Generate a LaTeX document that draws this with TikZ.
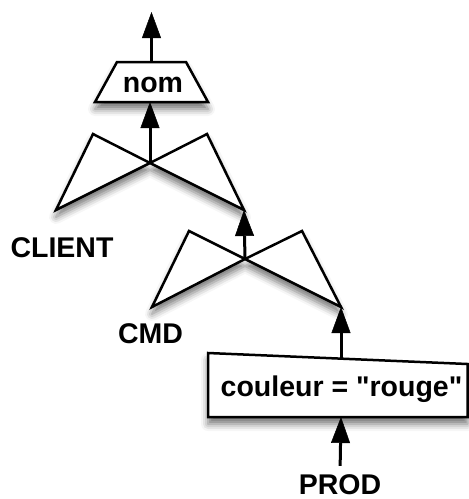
\documentclass[tikz,border=0pt]{standalone}
\usepackage{fontspec}
\setmainfont{Liberation Sans}
\usetikzlibrary{arrows.meta,shadows.blur}
\begin{document}
\begin{tikzpicture}[x=1pt,y=-1pt,
  opshape/.style={draw, line width=2.5pt, fill=white, line join=miter,
    blur shadow={shadow xshift=0pt, shadow yshift=-7pt, shadow blur radius=7pt, shadow opacity=55}},
  flow/.style={draw=black, line width=3pt,
    -{Triangle[width=19pt,length=26pt,fill=black,line width=0.5pt]}},
  lbl/.style={font=\bfseries\fontsize{28.5}{32}\selectfont, anchor=base, inner sep=0pt}]
\useasboundingbox (0,0) rectangle (469,499);

% projection on nom
\coordinate (nomT) at (151.5,62);
\coordinate (nomB) at (150,102);
\coordinate (out) at (151.5,12);
\path[opshape] (117,62) -- (186,62) -- (208,102) -- (95,102) -- cycle;
\node[lbl] (nom) at (153,92.5) {nom};

% join CLIENT / CMD
\coordinate (j1) at (150,163);
\coordinate (j1l) at (56,210);
\coordinate (j1r) at (244,210);
\path[opshape] (j1) -- (93,134) -- (j1l) -- cycle (j1) -- (207,134) -- (j1r) -- cycle;

% join CMD / selection
\coordinate (j2) at (245,259);
\coordinate (j2l) at (152,307);
\coordinate (j2r) at (341,307);
\path[opshape] (j2) -- (189,231) -- (j2l) -- cycle (j2) -- (302,231) -- (j2r) -- cycle;

% selection on PROD
\coordinate (selT) at (341,358.6);
\coordinate (selB) at (341,417);
\path[opshape] (208,353) -- (467.5,364) -- (467.5,417) -- (208,417) -- cycle;
\node[lbl] (sel) at (341.5,396.5) {couleur = \textquotedbl rouge\textquotedbl};

% relation names
\node[lbl] (client) at (62,257) {CLIENT};
\node[lbl] (cmd) at (150.5,343) {CMD};
\node[lbl] (prod) at (340,494) {PROD};

% data flow
\draw[flow] (nomT) -- (out);
\draw[flow] (j1) -- (nomB);
\draw[flow] (j2) -- (j1r);
\draw[flow] (selT) -- (j2r);
\draw[flow, shorten <=8pt] (prod.north) -- (selB);
\end{tikzpicture}
\end{document}
